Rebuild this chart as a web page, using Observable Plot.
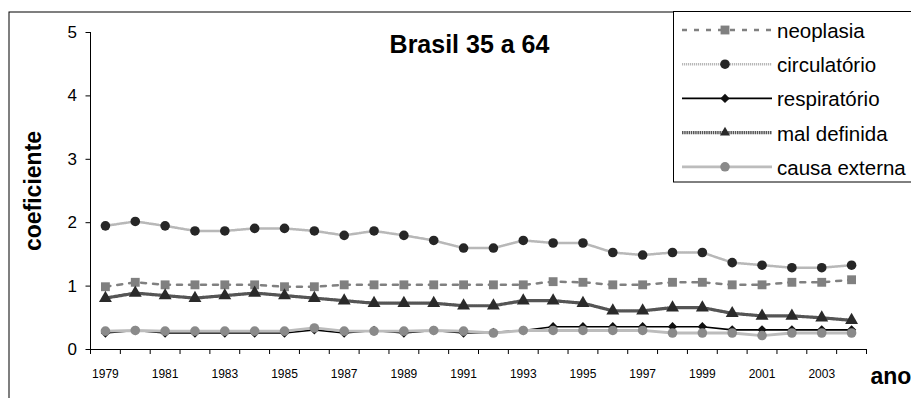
<!DOCTYPE html>
<html><head><meta charset="utf-8">
<script src="https://cdn.jsdelivr.net/npm/d3@7"></script>
<script src="https://cdn.jsdelivr.net/npm/@observablehq/plot@0.6"></script>
<style>
body{margin:0;background:#fff}
#chart{width:911px;height:398px;overflow:hidden;position:relative}
</style>
</head><body><div id="chart"></div>
<script>
// ---- data ----
const years = [1979,1980,1981,1982,1983,1984,1985,1986,1987,1988,1989,1990,1991,1992,1993,1994,1995,1996,1997,1998,1999,2000,2001,2002,2003,2004];
const tickYears = [1979,1981,1983,1985,1987,1989,1991,1993,1995,1997,1999,2001,2003];
const yTicks = [0,1,2,3,4,5];
const seriesNames = ["neoplasia","circulatório","respiratório","mal definida","causa externa"];
const neoplasia    = [0.99,1.06,1.02,1.02,1.02,1.02,0.99,0.99,1.02,1.02,1.02,1.02,1.02,1.02,1.02,1.07,1.06,1.02,1.02,1.06,1.06,1.02,1.02,1.06,1.06,1.10];
const circulatorio = [1.95,2.02,1.95,1.87,1.87,1.91,1.91,1.87,1.80,1.87,1.80,1.72,1.60,1.60,1.72,1.68,1.68,1.53,1.49,1.53,1.53,1.37,1.33,1.29,1.29,1.33];
const respiratorio = [0.26,0.30,0.26,0.26,0.26,0.26,0.26,0.31,0.26,0.30,0.26,0.30,0.26,0.27,0.30,0.36,0.36,0.36,0.36,0.36,0.36,0.31,0.31,0.31,0.31,0.31];
const malDefinida  = [0.81,0.89,0.85,0.81,0.85,0.89,0.85,0.81,0.77,0.73,0.73,0.73,0.69,0.69,0.77,0.77,0.73,0.61,0.61,0.66,0.66,0.57,0.53,0.53,0.50,0.46];
const causaExterna = [0.29,0.30,0.29,0.29,0.29,0.29,0.29,0.34,0.29,0.29,0.29,0.30,0.29,0.26,0.30,0.30,0.30,0.30,0.30,0.26,0.26,0.26,0.22,0.26,0.26,0.26];
const titleText = "Brasil 35 a 64";
const yLabel = "coeficiente";
const xLabel = "ano";

// ---- styles ----
const styles = [
  {stroke:"#808080", strokeWidth:2.5, dash:"5,7",     symbol:"square",   r:5,   fill:"#808080"},
  {stroke:"#b8b8b8", strokeWidth:2.5, dash:"1.2,0.8", symbol:"circle",   r:4.8, fill:"#262626"},
  {stroke:"#000000", strokeWidth:1.6, dash:null,      symbol:"diamond2", r:4.2, fill:"#111111"},
  {stroke:"#555555", strokeWidth:3.2, dash:"1.5,0.7", symbol:"triangle", r:4.8, fill:"#2a2a2a"},
  {stroke:"#bcbcbc", strokeWidth:2.8, dash:null,      symbol:"circle",   r:4.8, fill:"#8a8a8a"}
];
const valuesList = [neoplasia, circulatorio, respiratorio, malDefinida, causaExterna];
const tables = valuesList.map((vals, s) => years.map((y, i) => ({year: y, value: vals[i], serie: seriesNames[s]})));
const bounds = years.map(y => y - 0.5).concat([years[years.length-1] + 0.5]);
const x0 = years[0] - 0.5, x1 = years[years.length-1] + 0.5;

const seriesMarks = [];
tables.forEach((rows, s) => {
  const st = styles[s];
  seriesMarks.push(Plot.line(rows, {x:"year", y:"value", stroke:st.stroke, strokeWidth:st.strokeWidth, strokeDasharray:st.dash || undefined}));
  seriesMarks.push(Plot.dot(rows, {x:"year", y:"value", symbol:st.symbol, r:st.r, fill:st.fill, stroke:"none"}));
});

function legend(index, scales, values, dimensions) {
  const g = d3.create("svg:g");
  const lx = 673.5, ly = 11.5;
  g.append("rect").attr("x", lx).attr("y", ly).attr("width", 300).attr("height", 170.5)
    .attr("fill", "#fff").attr("stroke", "#000").attr("stroke-width", 1);
  const sym = {square: d3.symbolSquare, circle: d3.symbolCircle, diamond2: d3.symbolDiamond2, triangle: d3.symbolTriangle2};
  seriesNames.forEach((name, i) => {
    const st = styles[i];
    const cy = 30 + i * 34.2;
    g.append("line").attr("x1", 682).attr("x2", 772).attr("y1", cy).attr("y2", cy)
      .attr("stroke", st.stroke).attr("stroke-width", st.strokeWidth)
      .attr("stroke-dasharray", st.dash);
    g.append("path").attr("transform", `translate(725,${cy})`)
      .attr("d", d3.symbol(sym[st.symbol], Math.PI * st.r * st.r)())
      .attr("fill", st.fill);
    g.append("text").attr("x", 777).attr("y", cy + 8).attr("font-size", 20.5)
      .attr("text-anchor", "start").attr("fill", "#000").text(name);
  });
  return g.node();
}

const chart = Plot.plot({
  width: 911,
  height: 398,
  marginLeft: 90,
  marginRight: 45,
  marginTop: 32,
  marginBottom: 49,
  style: {fontFamily: "'Liberation Sans', Arial, sans-serif", background: "#fff", color: "#000", overflow: "visible"},
  x: {type: "linear", domain: [x0, x1]},
  y: {domain: [0, 5]},
  marks: [
    Plot.frame({stroke: "#000", strokeWidth: 1, insetLeft: -81.5, insetTop: -20.5, insetRight: -80, insetBottom: -80}),
    Plot.ruleX([x0], {y1: 0, y2: 5, stroke: "#000"}),
    Plot.ruleY([0], {x1: x0, x2: x1, stroke: "#000"}),
    Plot.axisY({ticks: yTicks, tickSize: 4.5, tickPadding: 9, fontSize: 17, label: null, tickFormat: d => String(d)}),
    Plot.axisX({ticks: bounds, tickSize: 5, tickFormat: () => "", label: null}),
    Plot.axisX({ticks: tickYears, tickSize: 0, tickPadding: 20, fontSize: 12, label: null, tickFormat: d => String(d)}),
    ...seriesMarks,
    Plot.text([titleText], {frameAnchor: "top", dx: -9, dy: 12, lineAnchor: "middle", fontSize: 25, fontWeight: "bold", fill: "#000", letterSpacing: "1px"}),
    Plot.text([yLabel], {frameAnchor: "left", dx: -57, rotate: -90, textAnchor: "middle", lineAnchor: "middle", fontSize: 23, fontWeight: "bold", fill: "#000", letterSpacing: "1.2px"}),
    Plot.text([xLabel], {frameAnchor: "bottom-right", dx: 4, dy: 27, textAnchor: "start", lineAnchor: "middle", fontSize: 23, fontWeight: "bold", fill: "#000"}),
    legend
  ]
});
document.getElementById("chart").appendChild(chart);
</script>
</body></html>
